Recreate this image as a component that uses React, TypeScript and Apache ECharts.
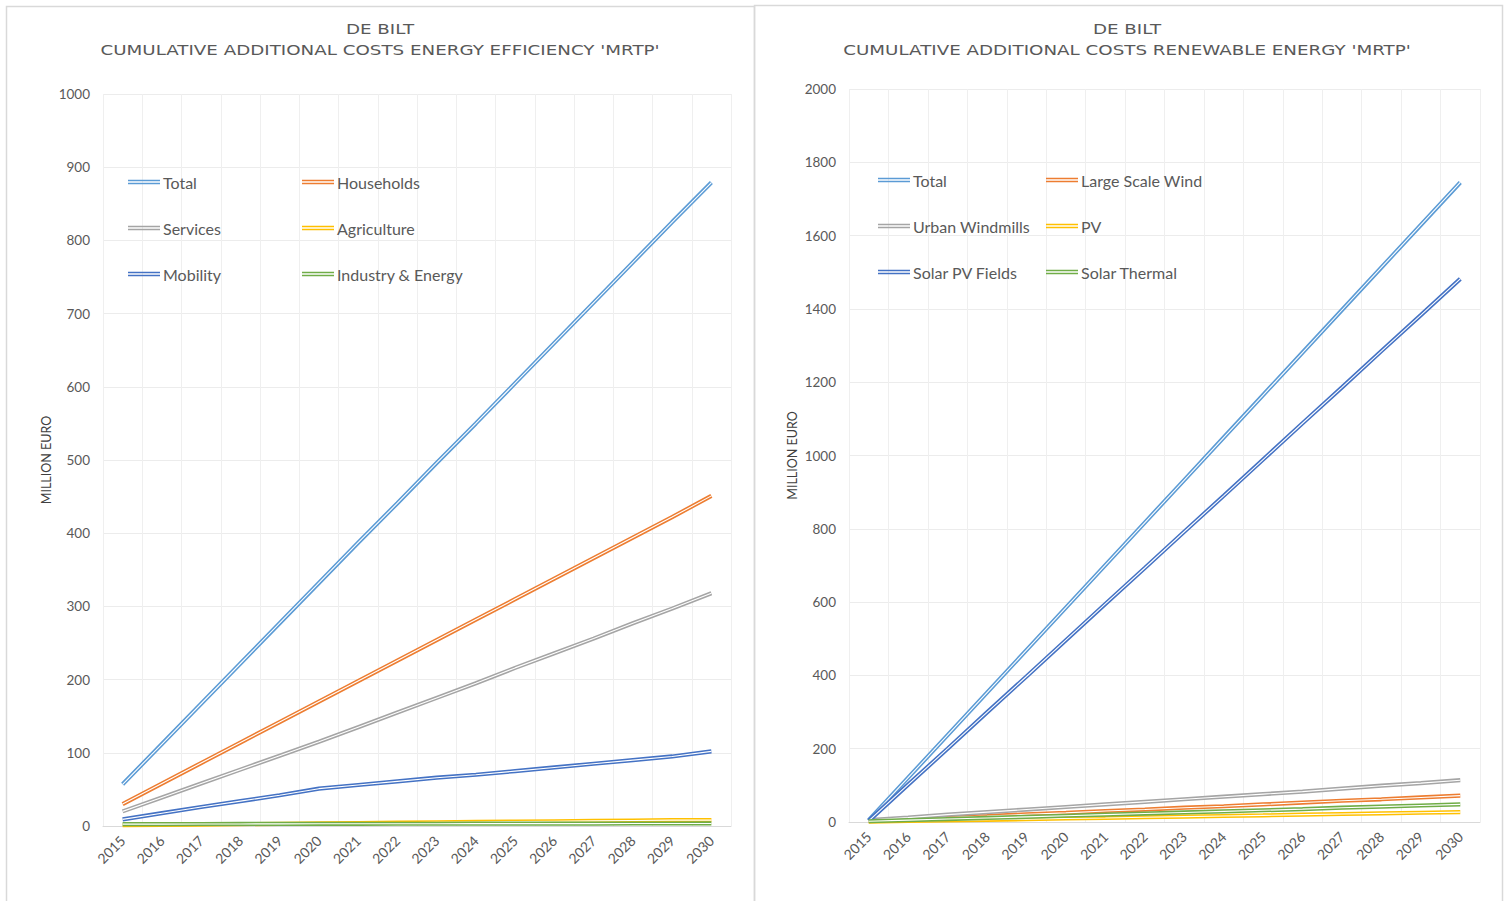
import React, { useEffect, useRef } from "react";
import * as echarts from "echarts";

const years = ["2015","2016","2017","2018","2019","2020","2021","2022","2023","2024","2025","2026","2027","2028","2029","2030"];

// Left chart: energy efficiency
const effTotal = [57, 112, 167, 222, 277, 332, 387, 441, 496, 550, 605, 660, 715, 770, 825, 879];
const effHouseholds = [30, 58, 86, 114, 142, 170, 198, 226, 254, 282, 310, 338, 366, 394, 422, 451];
const effServices = [20, 39, 58, 77, 96, 115, 135, 155, 175, 195, 216, 236, 256, 277, 297, 318];
const effAgriculture = [1, 1.5, 2, 2.5, 3, 3.5, 4, 4.5, 5, 5.5, 6, 6.5, 7, 7.5, 8, 8];
const effMobility = [9, 17.5, 26, 34, 42, 51, 56, 61, 66, 70, 75, 80, 85, 90, 95, 102];
const effIndustry = [2.5, 2.6, 2.7, 2.8, 2.9, 3, 3, 3.1, 3.1, 3.2, 3.2, 3.3, 3.3, 3.4, 3.4, 3.5];

// Right chart: renewable energy
const renTotal = [5, 121, 237, 353, 469, 585, 701, 817, 933, 1049, 1165, 1281, 1397, 1513, 1629, 1745];
const renLargeWind = [3, 7, 12, 16, 21, 25, 30, 34, 39, 43, 48, 53, 58, 62, 67, 72];
const renUrbanWind = [5, 12, 20, 27, 34, 41, 48, 55, 62, 69, 76, 83, 91, 99, 106, 114];
const renPV = [1, 2.7, 4.4, 6, 7.8, 9.5, 11, 13, 14.7, 16.4, 18, 20, 21.8, 23.5, 25.3, 27];
const renSolarFields = [3, 102, 200, 299, 397, 496, 595, 693, 792, 890, 989, 1088, 1186, 1285, 1383, 1482];
const renSolarThermal = [2, 5, 8, 11, 14, 17, 20, 23, 26, 29, 32, 35, 39, 42, 45, 48];

const C_BLUE_L = "#5B9BD5";
const C_ORANGE = "#ED7D31";
const C_GRAY = "#A5A5A5";
const C_YELLOW = "#FFC000";
const C_BLUE_D = "#4472C4";
const C_GREEN = "#70AD47";

const leftSeries = [
  { name: "Total", data: effTotal, color: C_BLUE_L },
  { name: "Households", data: effHouseholds, color: C_ORANGE },
  { name: "Services", data: effServices, color: C_GRAY },
  { name: "Agriculture", data: effAgriculture, color: C_YELLOW },
  { name: "Mobility", data: effMobility, color: C_BLUE_D },
  { name: "Industry & Energy", data: effIndustry, color: C_GREEN },
];
const rightSeries = [
  { name: "Total ", data: renTotal, color: C_BLUE_L },
  { name: "Large Scale Wind", data: renLargeWind, color: C_ORANGE },
  { name: "Urban Windmills", data: renUrbanWind, color: C_GRAY },
  { name: "PV", data: renPV, color: C_YELLOW },
  { name: "Solar PV Fields", data: renSolarFields, color: C_BLUE_D },
  { name: "Solar Thermal", data: renSolarThermal, color: C_GREEN },
];

const FONT = "Lato";
const TXT = "#595959";
const ICON = "path://M0,0H32V1.6H0ZM0,3H32V4.6H0Z";

function buildSeries(list: any[], idx: number) {
  const out: any[] = [];
  list.forEach((s) => {
    out.push({
      name: s.name,
      type: "line",
      xAxisIndex: idx,
      yAxisIndex: idx,
      data: s.data,
      symbol: "none",
      silent: true,
      color: s.color,
      lineStyle: { width: 4.2, color: s.color },
    });
    out.push({
      name: s.name + "__inner",
      type: "line",
      xAxisIndex: idx,
      yAxisIndex: idx,
      data: s.data,
      symbol: "none",
      silent: true,
      color: "#ffffff",
      lineStyle: { width: 1.1, color: "#ffffff" },
    });
  });
  return out;
}

function legend(left: number, top: number, names: string[]) {
  return {
    orient: "vertical",
    left,
    top,
    data: names.map((n) => ({ name: n, icon: ICON })),
    itemWidth: 32,
    itemHeight: 4.6,
    itemGap: 26,
    selectedMode: false,
    itemStyle: { borderWidth: 0 },
    lineStyle: { width: 0 },
    textStyle: { fontFamily: FONT, fontSize: 16, color: TXT, lineHeight: 20, padding: [0, 0, 0, -2] },
  };
}

function xAxis(idx: number) {
  return {
    type: "category",
    gridIndex: idx,
    data: years,
    boundaryGap: true,
    axisTick: { show: false },
    axisLine: { lineStyle: { color: "#d9d9d9", width: 1 } },
    splitLine: { show: true, lineStyle: { color: "#efefef", width: 1 } },
    axisLabel: { rotate: 45, fontFamily: FONT, fontSize: 14, color: TXT, margin: 12, interval: 0 },
  };
}

function yAxis(idx: number, max: number, interval: number) {
  return {
    type: "value",
    gridIndex: idx,
    min: 0,
    max,
    interval,
    name: "MILLION EURO",
    nameLocation: "middle",
    nameGap: 50,
    nameTextStyle: { fontFamily: FONT, fontSize: 12.5, color: "#404040" },
    axisLine: { show: false },
    axisTick: { show: false },
    splitLine: { lineStyle: { color: "#ececec", width: 1 } },
    axisLabel: { fontFamily: FONT, fontSize: 13.5, color: TXT, margin: 13, formatter: (v: number) => String(v) },
  };
}

export default function App() {
  const ref = useRef<HTMLDivElement>(null);
  useEffect(() => {
    if (!ref.current) return;
    const chart = echarts.init(ref.current, undefined, { renderer: "svg" });
    const titleStyle = { fontFamily: "DejaVu Sans", fontSize: 14.5, fill: TXT, textAlign: "center", lineHeight: 21 };
    const sx = 1.26;
    chart.setOption({
      animation: false,
      backgroundColor: "#ffffff",
      grid: [
        { left: 103, top: 94, width: 628, height: 732 },
        { left: 849, top: 89, width: 631, height: 733 },
      ],
      xAxis: [xAxis(0), xAxis(1)],
      yAxis: [yAxis(0, 1000, 100), yAxis(1, 2000, 200)],
      legend: [
        legend(123, 167, ["Total", "Services", "Mobility"]),
        legend(297, 167, ["Households", "Agriculture", "Industry & Energy"]),
        legend(873, 165, ["Total ", "Urban Windmills", "Solar PV Fields"]),
        legend(1041, 165, ["Large Scale Wind", "PV", "Solar Thermal"]),
      ],
      graphic: [
        { type: "rect", shape: { x: 6.5, y: 6.5, width: 748, height: 900 }, style: { fill: "none", stroke: "#d9d9d9", lineWidth: 1.5 }, silent: true },
        { type: "rect", shape: { x: 754.5, y: 5.5, width: 748, height: 900 }, style: { fill: "none", stroke: "#d9d9d9", lineWidth: 1.5 }, silent: true },
        { type: "text", x: 380, y: 19, scaleX: sx, style: { ...titleStyle, text: "DE BILT" } },
        { type: "text", x: 380, y: 40, scaleX: sx, style: { ...titleStyle, text: "CUMULATIVE ADDITIONAL COSTS ENERGY EFFICIENCY 'MRTP'" } },
        { type: "text", x: 1127, y: 19, scaleX: sx, style: { ...titleStyle, text: "DE BILT" } },
        { type: "text", x: 1127, y: 40, scaleX: sx, style: { ...titleStyle, text: "CUMULATIVE ADDITIONAL COSTS RENEWABLE ENERGY 'MRTP'" } },
      ],
      series: [...buildSeries(leftSeries, 0), ...buildSeries(rightSeries, 1)],
    });
    return () => chart.dispose();
  }, []);
  return <div ref={ref} style={{ position: "absolute", left: 0, top: 0, width: 1507, height: 901 }} />;
}
